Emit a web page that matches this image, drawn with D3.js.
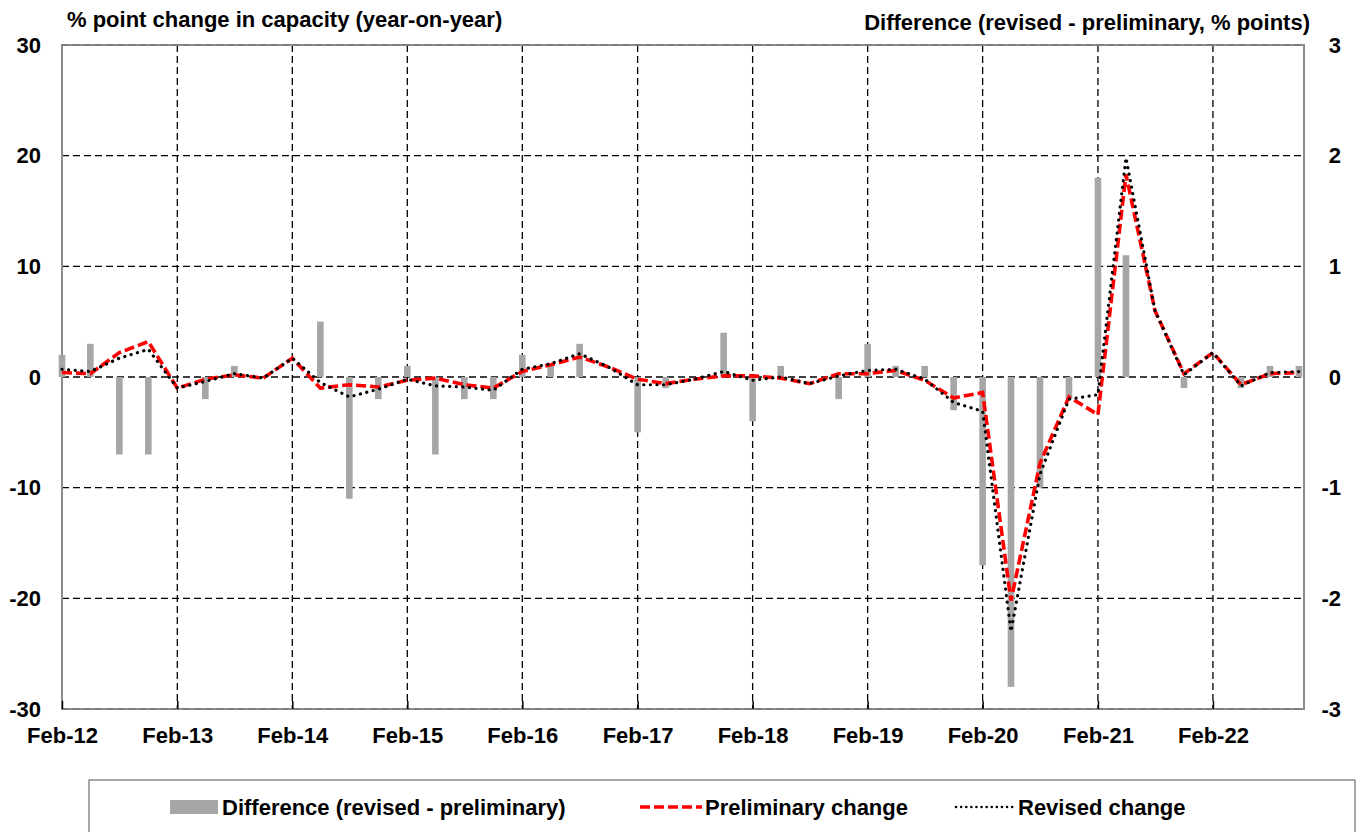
<!DOCTYPE html>
<meta charset="utf-8">
<style>
body { margin: 0; background: #fff; }
svg text { font-family: "Liberation Sans", Arial, sans-serif; font-weight: bold; fill: #000; }
.grid line { stroke: #000; stroke-width: 1.3; stroke-dasharray: 7,4; }
</style>
<svg width="1358" height="832"></svg>
<script src="https://cdn.jsdelivr.net/npm/d3@7"></script>
<script>

// quarterly observations, Feb-12 .. Nov-22
let quarters = ["Feb-12","May-12","Aug-12","Nov-12","Feb-13","May-13","Aug-13","Nov-13",
	"Feb-14","May-14","Aug-14","Nov-14","Feb-15","May-15","Aug-15","Nov-15",
	"Feb-16","May-16","Aug-16","Nov-16","Feb-17","May-17","Aug-17","Nov-17",
	"Feb-18","May-18","Aug-18","Nov-18","Feb-19","May-19","Aug-19","Nov-19",
	"Feb-20","May-20","Aug-20","Nov-20","Feb-21","May-21","Aug-21","Nov-21",
	"Feb-22","May-22","Aug-22","Nov-22"];

let preliminary = [0.4,0.3,2.2,3.2, -1.0,-0.2,0.2,-0.1, 1.7,-1.0,-0.7,-0.9, -0.3,-0.1,-0.7,-1.0,
	0.5,1.1,1.8,0.9, -0.2,-0.6,-0.2,0.1, 0.1,-0.1,-0.6,0.3, 0.3,0.6,-0.3,-1.9,
	-1.4,-20.2,-7.8,-1.8, -3.4,18.3,6.0,0.3, 2.2,-0.7,0.3,0.4];

let revised = [0.7,0.5,1.7,2.5, -1.0,-0.4,0.3,-0.1, 1.7,-0.5,-1.8,-1.1, -0.2,-0.8,-0.9,-1.2,
	0.7,1.2,2.1,0.9, -0.7,-0.7,-0.2,0.5, -0.3,0.0,-0.6,0.1, 0.6,0.7,-0.2,-2.3,
	-3.1,-23.0,-8.8,-2.0, -1.6,19.8,6.0,0.2, 2.2,-0.8,0.4,0.5];

let difference = [0.2,0.3,-0.7,-0.7, 0,-0.2,0.1,0, 0,0.5,-1.1,-0.2, 0.1,-0.7,-0.2,-0.2,
	0.2,0.1,0.3,0, -0.5,-0.1,0,0.4, -0.4,0.1,0,-0.2, 0.3,0.1,0.1,-0.3,
	-1.7,-2.8,-1.0,-0.2, 1.8,1.1,0,-0.1, 0,-0.1,0.1,0.1];

let leftTicks = [-30,-20,-10,0,10,20,30];
let rightTicks = [-3,-2,-1,0,1,2,3];
let yearTicks = ["Feb-12","Feb-13","Feb-14","Feb-15","Feb-16","Feb-17","Feb-18","Feb-19","Feb-20","Feb-21","Feb-22"];

let parse = d3.timeParse("%b-%y");
let dates = quarters.map(parse);

let svg = d3.select("svg");
let pLeft = 62, pRight = 1304, pTop = 45, pBottom = 709;
let fs = "22px";

let x = d3.scaleTime()
	.domain([dates[0], d3.timeDay.offset(dates[dates.length - 1], 16)])
	.range([pLeft, pRight]);
let y = d3.scaleLinear().domain([-30, 30]).range([pBottom, pTop]);
let y2 = d3.scaleLinear().domain([-3, 3]).range([pBottom, pTop]);

// gridlines
let grid = svg.append("g").attr("class", "grid");
grid.selectAll(".h")
	.data(leftTicks.filter(d => d > -30 && d < 30))
	.enter().append("line")
	.attr("x1", pLeft).attr("x2", pRight)
	.attr("y1", d => y(d)).attr("y2", d => y(d));
grid.selectAll(".v")
	.data(yearTicks.slice(1).map(parse))
	.enter().append("line")
	.attr("x1", d => x(d)).attr("x2", d => x(d))
	.attr("y1", pTop).attr("y2", pBottom);

// frame
svg.append("rect")
	.attr("x", pLeft).attr("y", pTop)
	.attr("width", pRight - pLeft).attr("height", pBottom - pTop)
	.attr("fill", "none").attr("stroke", "#8c8c8c").attr("stroke-width", 2);
[pTop, pBottom].forEach(function(v) {
	svg.append("line").attr("x1", pLeft).attr("x2", pRight).attr("y1", v).attr("y2", v)
		.attr("stroke", "#6e6e6e").attr("stroke-width", 1).attr("stroke-dasharray", "7,4");
});

// difference bars (right axis)
svg.append("g").selectAll("rect")
	.data(difference)
	.enter().append("rect")
	.attr("x", (d, i) => x(dates[i]) - 3.3)
	.attr("width", 6.6)
	.attr("y", d => Math.min(y2(d), y2(0)))
	.attr("height", d => Math.abs(y2(d) - y2(0)))
	.attr("fill", "#a6a6a6");

let line = d3.line()
	.x((d, i) => x(dates[i]))
	.y(d => y(d));

svg.append("path")
	.attr("d", line(preliminary))
	.attr("fill", "none")
	.attr("stroke", "#ff0000")
	.attr("stroke-width", 3.6)
	.attr("stroke-dasharray", "10,4");

svg.append("path")
	.attr("d", line(revised))
	.attr("fill", "none")
	.attr("stroke", "#000")
	.attr("stroke-width", 3.2)
	.attr("stroke-linecap", "round")
	.attr("stroke-dasharray", "0.1,6.5");

// x axis: inward ticks, labels below
let xAxis = d3.axisBottom(x)
	.tickValues(yearTicks.map(parse))
	.tickFormat(d3.timeFormat("%b-%y"))
	.tickSizeInner(-8).tickSizeOuter(0).tickPadding(18);
let gx = svg.append("g").attr("transform", "translate(0," + pBottom + ")").call(xAxis);
gx.select(".domain").remove();
gx.selectAll(".tick line").attr("stroke", "#000").attr("stroke-width", 1.5);
gx.selectAll("text").style("font-size", fs);

let gl = svg.append("g").attr("transform", "translate(" + pLeft + ",0)")
	.call(d3.axisLeft(y).tickValues(leftTicks).tickFormat(d => String(d)).tickSize(0).tickPadding(21));
gl.select(".domain").remove();
gl.selectAll("text").style("font-size", fs);

let gr = svg.append("g").attr("transform", "translate(1341,0)")
	.call(d3.axisLeft(y2).tickValues(rightTicks).tickFormat(d => String(d)).tickSize(0).tickPadding(0));
gr.select(".domain").remove();
gr.selectAll("text").style("font-size", fs);

// axis titles
svg.append("text").attr("x", 67).attr("y", 27)
	.style("font-size", fs)
	.text("% point change in capacity (year-on-year)");
svg.append("text").attr("x", 1310).attr("y", 30)
	.attr("text-anchor", "end")
	.style("font-size", fs)
	.text("Difference (revised - preliminary, % points)");

// legend
let lg = svg.append("g");
lg.append("rect")
	.attr("x", 89).attr("y", 780).attr("width", 1266).attr("height", 70)
	.attr("fill", "#fff").attr("stroke", "#8c8c8c").attr("stroke-width", 1.5);
lg.append("rect").attr("x", 170).attr("y", 800).attr("width", 48).attr("height", 14).attr("fill", "#a6a6a6");
lg.append("text").attr("x", 222).attr("y", 815).style("font-size", fs).text("Difference (revised - preliminary)");
lg.append("line").attr("x1", 640).attr("x2", 702).attr("y1", 807).attr("y2", 807)
	.attr("stroke", "#ff0000").attr("stroke-width", 3.6).attr("stroke-dasharray", "10,4");
lg.append("text").attr("x", 705).attr("y", 815).style("font-size", fs).text("Preliminary change");
lg.append("line").attr("x1", 956).attr("x2", 1016).attr("y1", 807).attr("y2", 807)
	.attr("stroke", "#000").attr("stroke-width", 2.5).attr("stroke-linecap", "round").attr("stroke-dasharray", "0.1,5");
lg.append("text").attr("x", 1018).attr("y", 815).style("font-size", fs).text("Revised change");

</script>
